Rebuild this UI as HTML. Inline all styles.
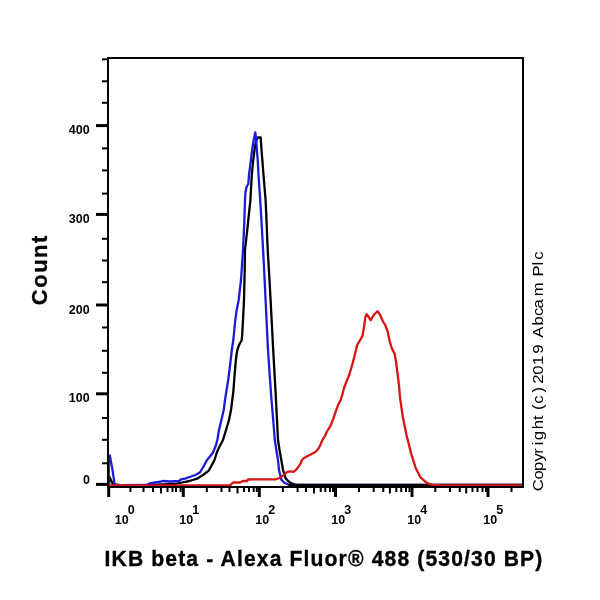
<!DOCTYPE html>
<html><head><meta charset="utf-8"><style>
html,body{margin:0;padding:0;background:#fff;width:600px;height:600px;overflow:hidden}
svg{display:block}
text{font-family:"Liberation Sans",Arial,sans-serif}
.t{font-size:12.5px;font-weight:bold;fill:#000}
</style></head><body>
<svg width="600" height="600" viewBox="0 0 600 600">
<rect width="600" height="600" fill="#fff"/>
<g fill="none" stroke-linejoin="round" stroke-linecap="round" stroke-width="2.3">
<polyline points="109.0,484.5 109.2,476.5 113.0,484.5 120.0,485.2 150.0,485.0 175.0,484.0 182.0,482.5 189.5,481.0 197.0,478.7 203.0,475.0 209.0,470.3 214.5,460.0 217.0,452.0 219.5,446.5 223.0,440.0 226.0,430.0 229.0,420.0 231.0,410.0 232.3,400.0 233.5,390.0 234.2,380.0 235.0,370.0 235.7,362.0 236.6,354.0 237.6,349.0 239.5,344.0 241.6,340.5 242.2,335.0 243.0,320.0 244.0,300.0 244.6,275.0 245.0,250.0 247.8,225.0 250.4,200.0 251.8,175.0 253.0,162.0 254.5,150.0 256.0,141.0 258.0,137.5 260.7,137.5 261.5,150.0 262.5,162.0 263.5,175.0 265.6,200.0 266.7,225.0 267.7,250.0 269.2,275.0 270.6,300.0 271.9,325.0 273.2,350.0 274.6,375.0 276.0,400.0 277.0,420.0 278.0,440.0 279.5,450.0 281.3,460.0 283.0,470.0 285.5,478.0 288.0,481.0 291.0,483.1 294.3,484.3 298.0,485.0 522.0,485.0" stroke="#000"/>
<polyline points="108.8,484.5 108.8,455.6 109.9,455.6 112.5,470.0 114.6,484.3 120.0,485.2 146.0,485.0 150.0,483.3 155.0,482.5 160.7,481.7 162.5,481.0 170.0,481.5 179.0,481.0 181.0,479.3 185.0,478.7 191.0,476.5 195.5,475.0 200.0,472.3 203.0,467.5 205.0,463.7 207.0,460.0 209.0,457.7 213.0,452.5 216.0,445.0 217.5,439.0 219.0,430.0 221.4,420.0 223.7,410.0 225.0,400.0 226.6,390.0 228.2,380.0 229.5,370.0 230.7,360.0 231.8,350.0 233.3,340.0 235.3,320.0 236.7,310.0 238.7,300.0 241.0,280.0 243.0,250.0 244.2,225.0 245.0,200.0 245.5,192.0 246.5,187.0 248.3,184.0 249.0,175.0 250.3,165.0 251.5,155.0 253.3,142.0 255.3,132.3 256.3,140.0 256.9,150.0 257.7,160.0 258.5,175.0 260.2,200.0 261.7,225.0 263.1,250.0 264.4,275.0 265.6,300.0 266.8,325.0 268.0,350.0 269.7,375.0 271.5,400.0 273.2,420.0 274.8,440.0 276.3,450.0 278.0,460.0 279.0,470.0 281.3,479.5 284.3,482.7 287.7,484.3 292.0,484.8 522.0,484.8" stroke="#1c1cd8"/>
<polyline points="289,484.8 296,485.1 522,485.1" stroke="#000"/>
<polyline points="108.0,485.3 230.0,485.3 233.0,482.5 240.0,482.5 243.0,481.0 247.0,481.0 248.0,479.5 276.0,479.3 280.2,477.7 283.5,475.2 286.8,472.2 290.2,471.4 293.5,471.8 296.0,469.8 298.5,466.8 300.6,463.5 301.8,460.2 303.5,458.5 306.8,456.4 310.2,454.8 313.5,453.1 316.0,451.4 318.5,448.5 320.2,445.2 321.4,442.2 323.1,438.9 324.8,436.4 326.7,432.0 330.7,425.3 333.3,418.7 336.0,410.7 338.0,405.3 340.7,400.0 342.7,393.3 344.0,388.0 346.7,381.0 349.7,373.5 352.7,363.0 355.0,354.0 357.2,345.0 359.5,341.2 362.5,336.0 364.0,327.0 365.5,316.5 366.7,314.2 370.7,320.2 373.7,315.0 377.5,311.2 380.2,315.0 382.7,321.0 385.0,324.7 387.7,331.5 389.5,340.5 391.7,348.0 394.7,354.0 396.2,363.0 397.7,375.0 399.2,387.0 400.1,398.3 402.8,416.7 406.5,435.0 411.1,453.4 415.7,468.0 420.3,477.2 426.7,482.8 432.2,484.9 440.0,485.3 522.0,485.3" stroke="#d81414"/>
</g>
<rect x="108" y="58" width="415" height="429" fill="none" stroke="#000" stroke-width="2"/>
<g stroke="#000">
<line x1="102" y1="59.3" x2="108" y2="59.3" stroke-width="2"/>
<line x1="102" y1="81.3" x2="108" y2="81.3" stroke-width="2"/>
<line x1="102" y1="102.8" x2="108" y2="102.8" stroke-width="2"/>
<line x1="96" y1="125.6" x2="108" y2="125.6" stroke-width="3"/>
<line x1="102" y1="148.4" x2="108" y2="148.4" stroke-width="2"/>
<line x1="102" y1="170.4" x2="108" y2="170.4" stroke-width="2"/>
<line x1="102" y1="193.6" x2="108" y2="193.6" stroke-width="2"/>
<line x1="96" y1="214.4" x2="108" y2="214.4" stroke-width="3"/>
<line x1="102" y1="238.8" x2="108" y2="238.8" stroke-width="2"/>
<line x1="102" y1="260.5" x2="108" y2="260.5" stroke-width="2"/>
<line x1="102" y1="282.2" x2="108" y2="282.2" stroke-width="2"/>
<line x1="96" y1="305.0" x2="108" y2="305.0" stroke-width="3"/>
<line x1="102" y1="327.5" x2="108" y2="327.5" stroke-width="2"/>
<line x1="102" y1="350.8" x2="108" y2="350.8" stroke-width="2"/>
<line x1="102" y1="372.8" x2="108" y2="372.8" stroke-width="2"/>
<line x1="96" y1="393.8" x2="108" y2="393.8" stroke-width="3"/>
<line x1="102" y1="418.0" x2="108" y2="418.0" stroke-width="2"/>
<line x1="102" y1="439.8" x2="108" y2="439.8" stroke-width="2"/>
<line x1="102" y1="463.3" x2="108" y2="463.3" stroke-width="2"/>
<line x1="96" y1="484.4" x2="108" y2="484.4" stroke-width="3"/>
<line x1="108.7" y1="487" x2="108.7" y2="497" stroke-width="3"/>
<line x1="130.4" y1="487" x2="130.4" y2="492" stroke-width="2"/>
<line x1="143.5" y1="487" x2="143.5" y2="492" stroke-width="2"/>
<line x1="153.0" y1="487" x2="153.0" y2="492" stroke-width="2"/>
<line x1="161.0" y1="487" x2="161.0" y2="493.5" stroke-width="2"/>
<line x1="167.5" y1="487" x2="167.5" y2="492" stroke-width="2"/>
<line x1="172.5" y1="487" x2="172.5" y2="492" stroke-width="2"/>
<line x1="176.0" y1="487" x2="176.0" y2="492" stroke-width="2"/>
<line x1="180.6" y1="487" x2="180.6" y2="492" stroke-width="2"/>
<line x1="183.3" y1="487" x2="183.3" y2="497" stroke-width="3"/>
<line x1="206.8" y1="487" x2="206.8" y2="492" stroke-width="2"/>
<line x1="221.5" y1="487" x2="221.5" y2="492" stroke-width="2"/>
<line x1="229.5" y1="487" x2="229.5" y2="492" stroke-width="2"/>
<line x1="237.5" y1="487" x2="237.5" y2="493.5" stroke-width="2"/>
<line x1="244.0" y1="487" x2="244.0" y2="492" stroke-width="2"/>
<line x1="249.0" y1="487" x2="249.0" y2="492" stroke-width="2"/>
<line x1="253.7" y1="487" x2="253.7" y2="492" stroke-width="2"/>
<line x1="256.8" y1="487" x2="256.8" y2="492" stroke-width="2"/>
<line x1="259.3" y1="487" x2="259.3" y2="497" stroke-width="3"/>
<line x1="282.9" y1="487" x2="282.9" y2="492" stroke-width="2"/>
<line x1="297.6" y1="487" x2="297.6" y2="492" stroke-width="2"/>
<line x1="306.0" y1="487" x2="306.0" y2="492" stroke-width="2"/>
<line x1="314.0" y1="487" x2="314.0" y2="493.5" stroke-width="2"/>
<line x1="320.7" y1="487" x2="320.7" y2="492" stroke-width="2"/>
<line x1="325.3" y1="487" x2="325.3" y2="492" stroke-width="2"/>
<line x1="330.0" y1="487" x2="330.0" y2="492" stroke-width="2"/>
<line x1="333.0" y1="487" x2="333.0" y2="492" stroke-width="2"/>
<line x1="335.5" y1="487" x2="335.5" y2="497" stroke-width="3"/>
<line x1="359.0" y1="487" x2="359.0" y2="492" stroke-width="2"/>
<line x1="373.7" y1="487" x2="373.7" y2="492" stroke-width="2"/>
<line x1="383.3" y1="487" x2="383.3" y2="492" stroke-width="2"/>
<line x1="389.9" y1="487" x2="389.9" y2="493.5" stroke-width="2"/>
<line x1="396.3" y1="487" x2="396.3" y2="492" stroke-width="2"/>
<line x1="401.2" y1="487" x2="401.2" y2="492" stroke-width="2"/>
<line x1="406.0" y1="487" x2="406.0" y2="492" stroke-width="2"/>
<line x1="409.5" y1="487" x2="409.5" y2="492" stroke-width="2"/>
<line x1="412.0" y1="487" x2="412.0" y2="497" stroke-width="3"/>
<line x1="435.3" y1="487" x2="435.3" y2="492" stroke-width="2"/>
<line x1="450.0" y1="487" x2="450.0" y2="492" stroke-width="2"/>
<line x1="459.8" y1="487" x2="459.8" y2="492" stroke-width="2"/>
<line x1="466.2" y1="487" x2="466.2" y2="493.5" stroke-width="2"/>
<line x1="472.5" y1="487" x2="472.5" y2="492" stroke-width="2"/>
<line x1="477.5" y1="487" x2="477.5" y2="492" stroke-width="2"/>
<line x1="482.5" y1="487" x2="482.5" y2="492" stroke-width="2"/>
<line x1="486.0" y1="487" x2="486.0" y2="492" stroke-width="2"/>
<line x1="488.0" y1="487" x2="488.0" y2="497" stroke-width="3"/>
<line x1="511.5" y1="487" x2="511.5" y2="492" stroke-width="2"/>
</g>
<g class="t">
<text x="89.6" y="133.8" text-anchor="end">400</text>
<text x="89.6" y="222.8" text-anchor="end">300</text>
<text x="89.6" y="313.5" text-anchor="end">200</text>
<text x="89.6" y="401.8" text-anchor="end">100</text>
<text x="89.9" y="483.8" text-anchor="end">0</text>
<text x="114.7" y="524">10<tspan dy="-9.6" dx="-0.8">0</tspan></text>
<text x="179.2" y="524">10<tspan dy="-9.6" dx="-0.8">1</tspan></text>
<text x="255.2" y="524">10<tspan dy="-9.6" dx="-0.8">2</tspan></text>
<text x="331.2" y="524">10<tspan dy="-9.6" dx="-0.8">3</tspan></text>
<text x="407.2" y="524">10<tspan dy="-9.6" dx="-0.8">4</tspan></text>
<text x="483.2" y="524">10<tspan dy="-9.6" dx="-0.8">5</tspan></text>
</g>
<text x="0" y="0" transform="translate(47,305.2) rotate(-90) scale(1,1.035)" font-size="22" font-weight="bold" stroke="#000" stroke-width="0.3" textLength="69.6" lengthAdjust="spacing">Count</text>
<text x="0" y="0" transform="translate(104.6,566) scale(0.96,1.045)" font-size="22" font-weight="bold" stroke="#000" stroke-width="0.35" textLength="456" lengthAdjust="spacing">IKB beta - Alexa Fluor® 488 (530/30 BP)</text>
<text x="7.72 17.75 25.24 33.41 40.14 47.57 52.04 61.59 69.54 73.57 78.18 83.65 93.38 98.21 101.19 109.01 117.29 127.28 135.34 141.03 151.76 160.00 166.53 177.22 189.30 194.30 203.82 209.00" y="0" transform="translate(543,500.0) rotate(-90) scale(1.15,1)" font-size="14.5">Copyright (c) 2019 Abcam Plc</text>
</svg>
</body></html>
